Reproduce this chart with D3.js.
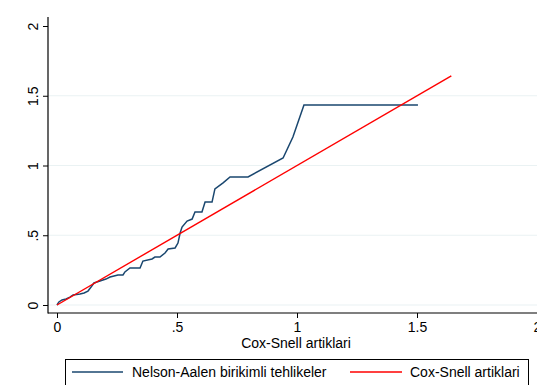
<!DOCTYPE html>
<html>
<head>
<meta charset="utf-8">
<script src="https://cdn.jsdelivr.net/npm/d3@7"></script>
<style>
  html, body { margin: 0; padding: 0; background: #fff; }
  svg { display: block; }
  text { font-family: "Liberation Sans", Arial, sans-serif; fill: #000; }
</style>
</head>
<body>
<svg id="chart" width="537" height="385"></svg>
<script>
// Data
const naX = [0, 0.008, 0.021, 0.038, 0.054, 0.067, 0.096, 0.113, 0.129, 0.142, 0.154, 0.179, 0.204, 0.221, 0.254, 0.275, 0.283, 0.304, 0.346, 0.358, 0.396, 0.408, 0.429, 0.450, 0.463, 0.492, 0.504, 0.513, 0.521, 0.542, 0.563, 0.575, 0.604, 0.617, 0.646, 0.658, 0.692, 0.721, 0.796, 0.942, 0.983, 1.029, 1.504];
const naY = [0, 0.022, 0.036, 0.043, 0.057, 0.072, 0.079, 0.086, 0.100, 0.129, 0.158, 0.172, 0.186, 0.201, 0.215, 0.215, 0.237, 0.265, 0.265, 0.315, 0.330, 0.344, 0.344, 0.373, 0.401, 0.409, 0.444, 0.516, 0.559, 0.602, 0.616, 0.667, 0.667, 0.738, 0.738, 0.832, 0.875, 0.918, 0.918, 1.054, 1.204, 1.434, 1.434];
const csX = [0, 1.643];
const csY = [0, 1.643];
const xTicks = [0, 0.5, 1, 1.5, 2];
const yTicks = [0, 0.5, 1, 1.5, 2];
const gridTicks = [0, 0.5, 1, 1.5];
const tickLabel = v => v === 0 ? "0" : (v % 1 === 0 ? String(v) : (v < 1 ? ".5" : String(v)));
const xTitle = "Cox-Snell artiklari";
const legendLabels = ["Nelson-Aalen birikimli tehlikeler", "Cox-Snell artiklari"];
const colors = ["#1a476f", "#ff0000"];

const svg = d3.select("#chart");
const x = d3.scaleLinear().domain([0, 2]).range([57, 537]);
const y = d3.scaleLinear().domain([0, 2]).range([305, 26]);
const axisX0 = 48, axisY0 = 313, axisTop = 17, axisRight = 537;

// gridlines
svg.append("g").selectAll("line").data(gridTicks).join("line")
  .attr("x1", axisX0).attr("x2", axisRight)
  .attr("y1", d => y(d)).attr("y2", d => y(d))
  .attr("stroke", "#eaf2f3").attr("stroke-width", 1.2);

// axes
const gx = svg.append("g").attr("transform", `translate(0,${axisY0})`)
  .call(d3.axisBottom(x).tickValues(xTicks).tickFormat(tickLabel).tickSize(5).tickPadding(4));
gx.select(".domain").remove();
gx.selectAll("line").attr("stroke", "#000");
gx.selectAll("text").attr("font-size", 14).attr("font-family", "Liberation Sans, Arial, sans-serif").attr("fill", "#000");

const gy = svg.append("g").attr("transform", `translate(${axisX0},0)`)
  .call(d3.axisLeft(y).tickValues(yTicks).tickFormat(tickLabel).tickSize(5));
gy.select(".domain").remove();
gy.selectAll("line").attr("stroke", "#000");
gy.selectAll("text")
  .attr("font-size", 14).attr("font-family", "Liberation Sans, Arial, sans-serif").attr("fill", "#000")
  .attr("text-anchor", "middle").attr("dy", null).attr("x", null)
  .attr("transform", "translate(-10,0) rotate(-90)");

svg.append("line").attr("x1", axisX0).attr("x2", axisX0).attr("y1", axisTop).attr("y2", axisY0 + 0.5)
  .attr("stroke", "#000").attr("stroke-width", 1.2);
svg.append("line").attr("x1", axisX0).attr("x2", axisRight).attr("y1", axisY0).attr("y2", axisY0)
  .attr("stroke", "#000").attr("stroke-width", 1.2);

// lines
const line = d3.line().x(d => x(d[0])).y(d => y(d[1]));
svg.append("path").datum(naX.map((v, i) => [v, naY[i]]))
  .attr("d", line).attr("fill", "none").attr("stroke", colors[0]).attr("stroke-width", 1.5);
svg.append("path").datum(csX.map((v, i) => [v, csY[i]]))
  .attr("d", line).attr("fill", "none").attr("stroke", colors[1]).attr("stroke-width", 1.4);

// x title
svg.append("text").attr("x", 296).attr("y", 348).attr("text-anchor", "middle")
  .attr("font-size", 14).text(xTitle);

// legend
svg.append("rect").attr("x", 65.5).attr("y", 359.5).attr("width", 463).attr("height", 40)
  .attr("fill", "#fff").attr("stroke", "#000").attr("stroke-width", 1);
const legX = [[72, 123, 132], [350, 402, 410]];
legendLabels.forEach((lab, i) => {
  svg.append("line").attr("x1", legX[i][0]).attr("x2", legX[i][1]).attr("y1", 372).attr("y2", 372)
    .attr("stroke", colors[i]).attr("stroke-width", 1.5);
  svg.append("text").attr("x", legX[i][2]).attr("y", 377).attr("font-size", 14).text(lab);
});
</script>
</body>
</html>
